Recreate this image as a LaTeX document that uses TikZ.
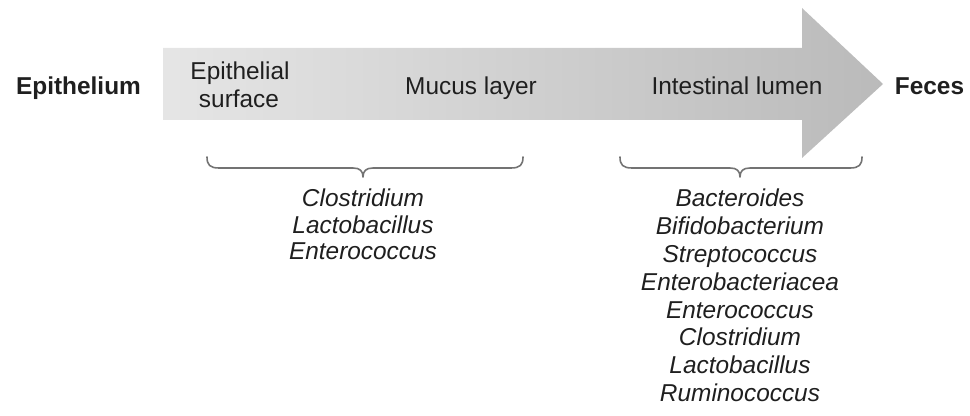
\documentclass[tikz,border=0pt]{standalone}
\usepackage{fontspec}
\setmainfont{Liberation Sans}
\usetikzlibrary{calc}
\begin{document}
\begin{tikzpicture}[x=0.5pt,y=-0.5pt,
  lbl/.style={inner sep=0pt,anchor=base,text=black!88,font=\fontsize{12.2}{14}\selectfont},
  bold/.style={lbl,font=\fontsize{12.2}{14}\selectfont\bfseries},
  genus/.style={lbl,font=\fontsize{12.2}{14}\selectfont\itshape},
  bracket/.style={draw=black!55,line width=0.8pt,line cap=round,line join=round}]
\useasboundingbox (0,0) rectangle (970,416);

% flow arrow from the epithelium towards the lumen
\shade[left color=black!10,right color=black!27]
  (163,48) -- (802,48) -- (802,8) -- (883,84) -- (802,158) -- (802,120) -- (163,120) -- cycle;

% end points and zones along the arrow
\node[bold] (epi) at (78.5,95) {Epithelium};
\node[bold] (fec) at (929.5,95) {Feces};
\node[lbl] (surf1) at (240,80) {Epithelial};
\node[lbl] (surf2) at (239,108) {surface};
\node[lbl] (mucus) at (471,95) {Mucus layer};
\node[lbl] (lumen) at (737,95) {Intestinal lumen};

% braces grouping the zones: curled ends, flat bar, small point in the middle
\coordinate (bl1) at (207,157);
\coordinate (bl2) at (523,157);
\coordinate (blm) at (363,177);
\coordinate (br1) at (620,157);
\coordinate (br2) at (862,157);
\coordinate (brm) at (740,177);
\foreach \a/\m/\b in {bl1/blm/bl2,br1/brm/br2}
  \draw[bracket] (\a) .. controls ($(\a)+(0,8)$) and ($(\a)+(3,11)$) .. ($(\a)+(12,11)$)
    -- ($(\m)+(-10,-9)$) .. controls ($(\m)+(-3,-9)$) and ($(\m)+(0,-6)$) .. (\m)
    .. controls ($(\m)+(0,-6)$) and ($(\m)+(3,-9)$) .. ($(\m)+(10,-9)$)
    -- ($(\b)+(-12,11)$) .. controls ($(\b)+(-3,11)$) and ($(\b)+(0,8)$) .. (\b);

% genera near the epithelium
\foreach \g [count=\i from 0] in {Clostridium,Lactobacillus,Enterococcus}
  \node[genus] (mg\i) at (363,207+26.5*\i) {\g};

% genera in the lumen
\foreach \g [count=\i from 0] in {Bacteroides,Bifidobacterium,Streptococcus,Enterobacteriacea,Enterococcus,Clostridium,Lactobacillus,Ruminococcus}
  \node[genus] (lg\i) at (740,207+27.8*\i) {\g};
\end{tikzpicture}
\end{document}
